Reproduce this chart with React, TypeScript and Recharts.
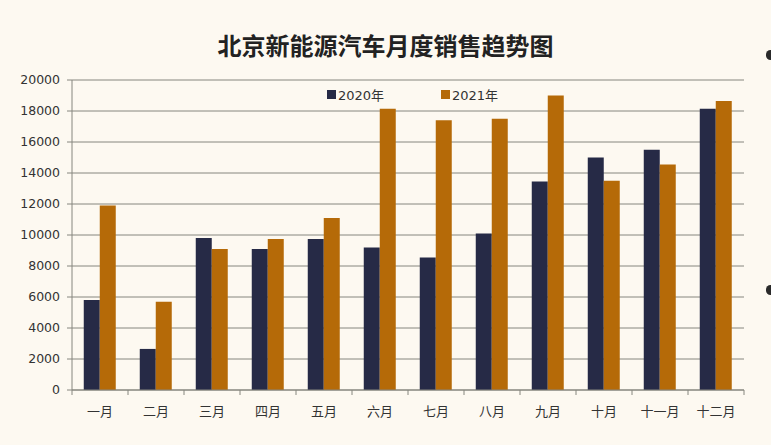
import React from "react";
import { BarChart, Bar, XAxis, YAxis, CartesianGrid, Legend } from "recharts";

const months = ["一月", "二月", "三月", "四月", "五月", "六月", "七月", "八月", "九月", "十月", "十一月", "十二月"];
const sales2020 = [5800, 2650, 9800, 9100, 9750, 9200, 8550, 10100, 13450, 15000, 15500, 18150];
const sales2021 = [11900, 5700, 9100, 9750, 11100, 18150, 17400, 17500, 19000, 13500, 14550, 18650];
const yTicks = [0, 2000, 4000, 6000, 8000, 10000, 12000, 14000, 16000, 18000, 20000];
const seriesNames = ["2020年", "2021年"];
const title = "北京新能源汽车月度销售趋势图";

const data = months.map((m, i) => ({ month: m, a: sales2020[i], b: sales2021[i] }));

const NAVY = "#262a46";
const ORANGE = "#b56a08";
const GRID = "#86867f";
const BG = "#fdf9f1";
const TICK_SIZE = 5;
const TICK_MARGIN = 12;

const XTick = (props: any) => {
  const { x, y, payload, index, visibleTicksCount } = props;
  const half = payload && payload.offset ? payload.offset : 28;
  const axisY = y - TICK_SIZE - TICK_MARGIN;
  const isLast = index === (visibleTicksCount ?? months.length) - 1;
  return (
    <g>
      <line x1={x - half} x2={x - half} y1={axisY} y2={axisY + TICK_SIZE} stroke={GRID} />
      {isLast && <line x1={x + half} x2={x + half} y1={axisY} y2={axisY + TICK_SIZE} stroke={GRID} />}
      <text
        x={x}
        y={y}
        dy="0.71em"
        textAnchor="middle"
        fill="#333"
        fontSize={13}
        fontFamily="'Noto Sans CJK SC', sans-serif"
      >
        {payload.value}
      </text>
    </g>
  );
};

const LegendContent = () => (
  <div style={{ position: "relative", width: 771, height: 20, fontSize: 13, color: "#333" }}>
    {seriesNames.map((n, i) => (
      <div key={n} style={{ position: "absolute", left: i === 0 ? 327 : 441, top: 0, display: "flex", alignItems: "center" }}>
        <span style={{ display: "inline-block", width: 9, height: 9, background: i === 0 ? NAVY : ORANGE, marginRight: 2 }} />
        <span style={{ fontFamily: "'DejaVu Sans', 'Noto Sans CJK SC', sans-serif" }}>{n}</span>
      </div>
    ))}
  </div>
);

export default function App() {
  return (
    <div style={{ position: "fixed", left: 0, top: 0, width: 771, height: 445, background: BG, overflow: "hidden" }}>
      <div
        style={{
          position: "absolute",
          left: 0,
          top: 28,
          width: 771,
          textAlign: "center",
          fontFamily: "'Noto Sans CJK SC', sans-serif",
          fontWeight: 700,
          fontSize: 24,
          color: "#222",
          lineHeight: "34px",
        }}
      >
        {title}
      </div>
      <div style={{ position: "absolute", left: 766, top: 50, width: 9, height: 10, borderRadius: 5, background: "#2a2a2a" }} />
      <div style={{ position: "absolute", left: 766, top: 285, width: 9, height: 10, borderRadius: 5, background: "#2a2a2a" }} />
      <BarChart
        width={771}
        height={445}
        data={data}
        margin={{ top: 80, right: 27, bottom: 25, left: 12 }}
        barCategoryGap="21%"
        barGap={0}
      >
        <CartesianGrid vertical={false} stroke={GRID} strokeDasharray="" />
        <XAxis
          dataKey="month"
          height={30}
          axisLine={{ stroke: GRID }}
          tickLine={false}
          tickSize={TICK_SIZE}
          tickMargin={TICK_MARGIN}
          interval={0}
          tick={<XTick />}
        />
        <YAxis
          width={60}
          domain={[0, 20000]}
          ticks={yTicks}
          interval={0}
          axisLine={{ stroke: GRID }}
          tickLine={{ stroke: GRID }}
          tickSize={5}
          tickMargin={7}
          tick={{ fill: "#333", fontSize: 12.5, fontFamily: "'DejaVu Sans', Verdana, sans-serif" }}
        />
        <Legend
          layout="horizontal"
          verticalAlign="middle"
          align="center"
          content={<LegendContent />}
          wrapperStyle={{ position: "absolute", top: 85, left: 0, width: 771 }}
        />
        <Bar dataKey="a" name={seriesNames[0]} fill={NAVY} isAnimationActive={false} />
        <Bar dataKey="b" name={seriesNames[1]} fill={ORANGE} isAnimationActive={false} />
      </BarChart>
    </div>
  );
}
